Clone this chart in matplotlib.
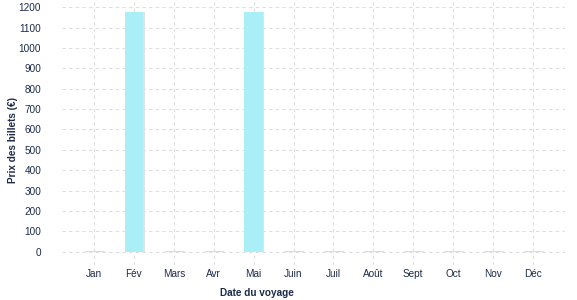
import matplotlib
matplotlib.use("Agg")
import matplotlib.pyplot as plt

months = ["Jan", "Fév", "Mars", "Avr", "Mai", "Juin", "Juil", "Août", "Sept", "Oct", "Nov", "Déc"]
prices = [6, 1175, 6, 6, 1175, 6, 6, 6, 6, 6, 6, 6]
yticks = [0, 100, 200, 300, 400, 500, 600, 700, 800, 900, 1000, 1100, 1200]

plt.rcParams['font.family'] = ['Liberation Sans', 'DejaVu Sans']
text_color = "#1c2b4a"

fig = plt.figure(figsize=(5.77, 3.0), dpi=100)
ax = fig.add_axes([62/577, 1 - 265/300, (565-62)/577, 265/300])

x = list(range(len(months)))
# subtle shadow
ax.bar([i + 0.04 for i in x], prices, width=0.46, color="#e2e2e2", zorder=2)
ax.bar(x, prices, width=0.46, color="#aaeef8", zorder=3)

ax.set_xlim(-0.8, 11.8)
ax.set_ylim(-65, 1235)
ax.set_xticks(x)
ax.set_xticklabels(months)
ax.set_yticks(yticks)
ax.grid(True, color="#dedede", linestyle=(0, (3, 3)), linewidth=0.8, zorder=0)
for s in ax.spines.values():
    s.set_visible(False)
ax.tick_params(axis='both', length=0, colors=text_color, labelsize=7.2)
ax.tick_params(axis='x', pad=3)
ax.tick_params(axis='y', pad=15)
for lab in ax.get_yticklabels() + ax.get_xticklabels():
    lab.set_color(text_color)

fig.text(257/577, 1 - 293/300, "Date du voyage", ha='center', va='center',
         fontsize=7.2, fontweight='bold', color=text_color)
fig.text(13/577, 1 - 140/300, "Prix des billets (€)", ha='center', va='center',
         rotation=90, fontsize=7.2, fontweight='bold', color=text_color)

fig.savefig("out.png", dpi=100)
